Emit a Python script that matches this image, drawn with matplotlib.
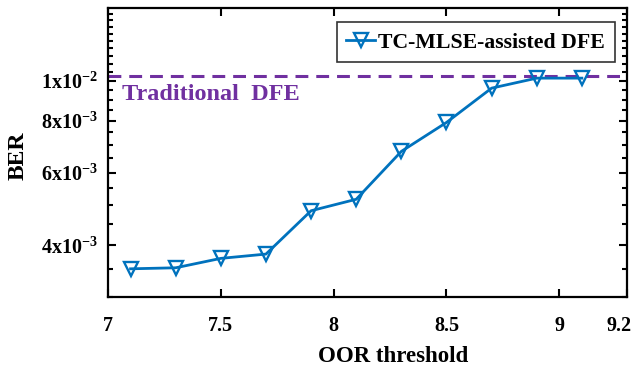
import numpy as np
import matplotlib
matplotlib.use("Agg")
import matplotlib.pyplot as plt
import matplotlib.transforms as mtransforms
from matplotlib.ticker import FixedLocator, FixedFormatter, NullFormatter

plt.rcParams['font.family'] = ['Liberation Serif', 'DejaVu Serif']
plt.rcParams['font.weight'] = 'bold'
plt.rcParams['mathtext.fontset'] = 'custom'
plt.rcParams['mathtext.rm'] = 'Liberation Serif:bold'
plt.rcParams['mathtext.bf'] = 'Liberation Serif:bold'
plt.rcParams['mathtext.it'] = 'Liberation Serif:bold'

# data
oor = [7.1, 7.3, 7.5, 7.7, 7.9, 8.1, 8.3, 8.5, 8.7, 8.9, 9.1]
ber_tc = [3.51e-3, 3.53e-3, 3.72e-3, 3.81e-3, 4.85e-3, 5.17e-3,
          6.75e-3, 7.93e-3, 9.6e-3, 1.015e-2, 1.015e-2]
ber_dfe = 1.028e-2

xticks = [7, 7.5, 8, 8.5, 9, 9.3]
xticklabels = ['7', '7.5', '8', '8.5', '9', '9.2']
yticks = [4e-3, 6e-3, 8e-3, 1e-2]
yticklabels = [r'$\mathregular{4x10^{-3}}$', r'$\mathregular{6x10^{-3}}$',
               r'$\mathregular{8x10^{-3}}$', r'$\mathregular{1x10^{-2}}$']

blue = '#0072BD'
purple = '#7030A0'

fig = plt.figure(figsize=(6.37, 3.69), dpi=100)
ax = fig.add_axes([108/637, 72/369, 519/637, 289/369])

ax.axhline(ber_dfe, color=purple, ls=(0, (4.2, 2.6)), lw=2.2)
ax.plot(oor, ber_tc, color=blue, lw=2, marker='v', ms=10,
        mfc='none', mec=blue, mew=1.7, label='TC-MLSE-assisted DFE')
ax.text(7.06, 9.25e-3, 'Traditional  DFE', color=purple, fontsize=17.5,
        fontweight='bold', va='center')

ax.set_yscale('log')
ax.set_xlim(7, 9.3)
ax.set_ylim(3.0e-3, 1.5e-2)
ax.xaxis.set_major_locator(FixedLocator(xticks))
ax.xaxis.set_major_formatter(FixedFormatter(xticklabels))
ax.yaxis.set_major_locator(FixedLocator(yticks))
ax.yaxis.set_major_formatter(FixedFormatter(yticklabels))
ax.yaxis.set_minor_locator(FixedLocator(np.arange(3.0e-3, 1.5e-2, 5e-4)))
ax.yaxis.set_minor_formatter(NullFormatter())

ax.tick_params(which='both', direction='in', top=True, right=True,
               labelsize=14.5, width=1.5)
ax.tick_params(which='major', length=6)
ax.tick_params(which='minor', length=3.5)
ax.tick_params(axis='x', pad=14)
ax.tick_params(axis='y', pad=7)
for s in ax.spines.values():
    s.set_linewidth(1.6)

# last label "9.2" sits at the right end of the axis, pull it inside the canvas
fig.canvas.draw()
last = ax.get_xticklabels()[-1]
last.set_transform(last.get_transform() +
                   mtransforms.ScaledTranslation(-0.08, 0, fig.dpi_scale_trans))

ax.set_xlabel('OOR threshold', fontsize=16.5, fontweight='bold')
ax.xaxis.set_label_coords(0.549, -0.168)
ax.set_ylabel('BER', fontsize=17, fontweight='bold')
ax.yaxis.set_label_coords(-0.152, 0.49)

leg = ax.legend(loc='upper right', bbox_to_anchor=(0.976, 0.95), fontsize=15.7,
                frameon=True, fancybox=False, edgecolor='black',
                handlelength=1.3, handletextpad=0.15, borderpad=0.45,
                borderaxespad=0)
leg.get_frame().set_linewidth(1.2)

fig.savefig('out.png', dpi=100)
